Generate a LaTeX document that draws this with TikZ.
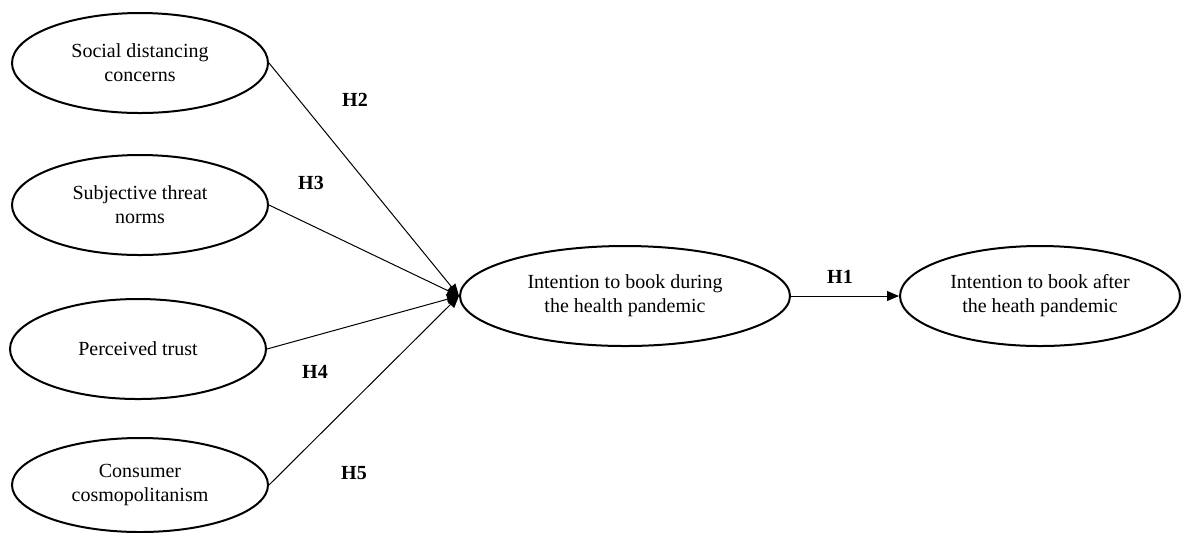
\documentclass[tikz,border=0pt]{standalone}
\usepackage{fontspec}
\setmainfont{Liberation Serif}
\usetikzlibrary{shapes.geometric,arrows.meta}
\tikzset{
    construct/.style={ellipse, draw=black, line width=1pt, align=center, font=\fontsize{10}{12}\selectfont, minimum width=128pt, minimum height=50pt, inner sep=0pt},
    path/.style={draw=black, line width=0.5pt, -{Triangle[length=6pt,width=5pt]}},
    hyp/.style={font=\fontsize{10}{12}\selectfont\bfseries}
}

\begin{document}
\begin{tikzpicture}[x=0.5pt, y=-0.5pt]
        \useasboundingbox (0,0) rectangle (1192,532);
        \node[construct] (soc) at (140,63) {Social distancing\\concerns};
        \node[construct] (subj) at (140,205) {Subjective threat\\norms};
        \node[construct] (trust) at (138,349) {Perceived trust};
        \node[construct, minimum height=47pt] (cosmo) at (140,485) {Consumer\\cosmopolitanism};
        \node[construct, minimum width=165pt] (during) at (625,296) {Intention to book during\\the health pandemic};
        \node[construct, minimum width=140pt] (after) at (1040,296) {Intention to book after\\the heath pandemic};
        \draw[path] (soc.east) -- (during.west);
        \draw[path] (subj.east) -- (during.west);
        \draw[path] (trust.east) -- (during.west);
        \draw[path] (cosmo.east) -- (during.west);
        \draw[path] (during.east) -- (after.west);
        \node[hyp] (h2) at (355,100) {H2};
        \node[hyp] (h3) at (311,183) {H3};
        \node[hyp] (h4) at (315,372) {H4};
        \node[hyp] (h5) at (354,473) {H5};
        \node[hyp] (h1) at (840,277) {H1};
    \end{tikzpicture}
\end{document}
